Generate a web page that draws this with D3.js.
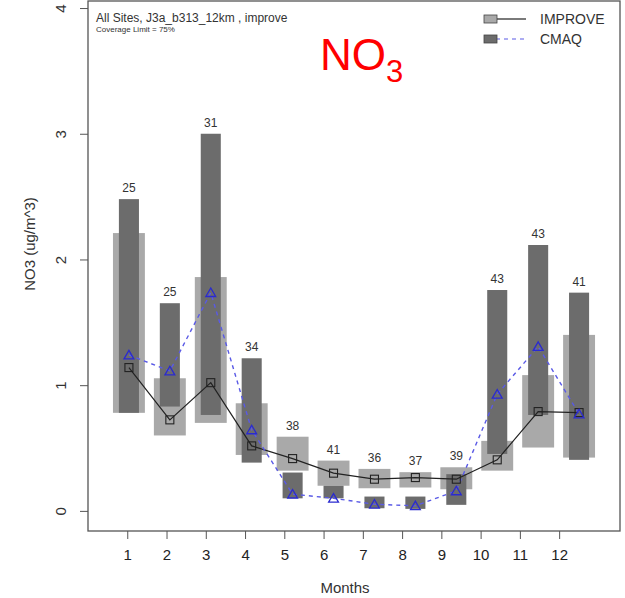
<!DOCTYPE html>
<html lang="en">
<head>
<meta charset="UTF-8" />
<title>NO3 monthly</title>
<script src="https://cdn.jsdelivr.net/npm/d3@7"></script>
<style>
  body { margin: 0; background: #fff; }
  text { font-family: "Liberation Sans", Arial, sans-serif; }
</style>
</head>
<body>
<svg id="chart" width="625" height="598"></svg>
<script>
  // monthly values (ug/m^3)
  let months = [1, 2, 3, 4, 5, 6, 7, 8, 9, 10, 11, 12];
  let nSites = [25, 25, 31, 34, 38, 41, 36, 37, 39, 43, 43, 41];
  // IMPROVE 25th / 75th percentile
  let obsLow = [0.78, 0.60, 0.70, 0.445, 0.32, 0.20, 0.18, 0.186, 0.172, 0.32, 0.504, 0.424];
  let obsHigh = [2.21, 1.055, 1.86, 0.856, 0.59, 0.40, 0.334, 0.308, 0.347, 0.557, 1.08, 1.40];
  // CMAQ 25th / 75th percentile
  let modLow = [0.78, 0.83, 0.763, 0.384, 0.10, 0.10, 0.021, 0.016, 0.048, 0.453, 0.763, 0.406];
  let modHigh = [2.48, 1.652, 3.0, 1.214, 0.305, 0.20, 0.114, 0.114, 0.292, 1.757, 2.115, 1.736];
  // means
  let obsMean = [1.14, 0.724, 1.02, 0.517, 0.416, 0.30, 0.252, 0.265, 0.252, 0.406, 0.79, 0.782];
  let modMean = [1.24, 1.113, 1.736, 0.644, 0.133, 0.10, 0.053, 0.04, 0.159, 0.928, 1.307, 0.771];
  let yTicks = [0, 1, 2, 3, 4];

  let svg = d3.select("#chart");
  let plotL = 88, plotR = 620, plotT = 1, plotB = 531;

  // boxes sit on their own x scale, the axis on a slightly wider one
  let x = d3.scaleLinear().domain([0, 13]).range([plotL, plotR]);
  let xAxisScale = d3.scaleLinear().domain([0, 13.55]).range([plotL, plotR]);
  let y = d3.scaleLinear().domain([-0.16, 4.056]).range([plotB, plotT]);

  let lightW = x(0.78) - x(0);
  let darkW = x(0.49) - x(0);

  let rows = months.map((m, i) => ({
    m: m, n: nSites[i],
    oLo: obsLow[i], oHi: obsHigh[i],
    mLo: modLow[i], mHi: modHigh[i],
    oMean: obsMean[i], mMean: modMean[i]
  }));

  let g = svg.append("g");

  // IMPROVE boxes
  g.selectAll(".obs").data(rows).enter().append("rect")
    .attr("x", d => x(d.m) - lightW / 2)
    .attr("y", d => y(d.oHi))
    .attr("width", lightW)
    .attr("height", d => y(d.oLo) - y(d.oHi))
    .attr("fill", "#a9a9a9");

  // CMAQ boxes
  g.selectAll(".mod").data(rows).enter().append("rect")
    .attr("x", d => x(d.m) - darkW / 2)
    .attr("y", d => y(d.mHi))
    .attr("width", darkW)
    .attr("height", d => y(d.mLo) - y(d.mHi))
    .attr("fill", "#6c6c6c");

  // number of sites
  g.selectAll(".nlab").data(rows).enter().append("text")
    .attr("x", d => x(d.m))
    .attr("y", d => y(Math.max(d.oHi, d.mHi)) - 7)
    .attr("text-anchor", "middle")
    .attr("font-size", 12)
    .attr("fill", "#333")
    .text(d => d.n);

  // mean lines
  let obsLine = d3.line().x(d => x(d.m)).y(d => y(d.oMean));
  let modLine = d3.line().x(d => x(d.m)).y(d => y(d.mMean));

  g.append("path").datum(rows).attr("d", obsLine)
    .attr("fill", "none").attr("stroke", "#222").attr("stroke-width", 1.2);
  g.append("path").datum(rows).attr("d", modLine)
    .attr("fill", "none").attr("stroke", "#5a5ae6").attr("stroke-width", 1.4)
    .attr("stroke-dasharray", "4,4");

  g.selectAll(".sq").data(rows).enter().append("rect")
    .attr("x", d => x(d.m) - 4)
    .attr("y", d => y(d.oMean) - 4)
    .attr("width", 8).attr("height", 8)
    .attr("fill", "none").attr("stroke", "#222").attr("stroke-width", 1.1);

  let tri = d3.symbol().type(d3.symbolTriangle).size(42);
  g.selectAll(".tri").data(rows).enter().append("path")
    .attr("d", tri)
    .attr("transform", d => `translate(${x(d.m)},${y(d.mMean) + 1})`)
    .attr("fill", "none").attr("stroke", "#2a2ad0").attr("stroke-width", 1.3);

  // frame
  svg.append("rect")
    .attr("x", plotL).attr("y", plotT)
    .attr("width", plotR - plotL).attr("height", plotB - plotT)
    .attr("fill", "none").attr("stroke", "#555").attr("stroke-width", 1.3);

  // axes
  let yAxis = svg.append("g").attr("transform", `translate(${plotL},0)`)
    .call(d3.axisLeft(y).tickValues(yTicks).tickFormat(d3.format("d")).tickSize(8).tickSizeOuter(0));
  yAxis.select(".domain").remove();
  yAxis.selectAll("line").attr("stroke", "#555");
  yAxis.selectAll("text")
    .attr("font-size", 15).attr("fill", "#333")
    .attr("transform", "rotate(-90)")
    .attr("x", 0).attr("y", -22).attr("dy", null)
    .attr("text-anchor", "middle");

  let xAxis = svg.append("g").attr("transform", `translate(0,${plotB})`)
    .call(d3.axisBottom(xAxisScale).tickValues(months).tickSize(8).tickSizeOuter(0).tickPadding(10));
  xAxis.select(".domain").remove();
  xAxis.selectAll("line").attr("stroke", "#555");
  xAxis.selectAll("text").attr("font-size", 15).attr("fill", "#222");

  svg.append("text")
    .attr("x", 345).attr("y", 593)
    .attr("text-anchor", "middle").attr("font-size", 15).attr("fill", "#333")
    .text("Months");

  svg.append("text")
    .attr("transform", "translate(35,244) rotate(-90)")
    .attr("text-anchor", "middle").attr("font-size", 15).attr("fill", "#333")
    .text("NO3 (ug/m^3)");

  // titles
  svg.append("text").attr("x", 96).attr("y", 22)
    .attr("font-size", 12).attr("fill", "#333")
    .text("All Sites,  J3a_b313_12km , improve");
  svg.append("text").attr("x", 96).attr("y", 32)
    .attr("font-size", 8).attr("fill", "#333")
    .text("Coverage Limit = 75%");

  let big = svg.append("text").attr("x", 320).attr("y", 70)
    .attr("font-size", 44).attr("fill", "#ff0000");
  big.append("tspan").text("NO");
  big.append("tspan").attr("font-size", 31).attr("dy", 12).text("3");

  // legend
  let legend = [
    { name: "IMPROVE", fill: "#a9a9a9", stroke: "#222", dash: null, y: 19 },
    { name: "CMAQ", fill: "#6c6c6c", stroke: "#5a5ae6", dash: "4,4", y: 39 }
  ];
  let lg = svg.selectAll(".leg").data(legend).enter().append("g");
  lg.append("line")
    .attr("x1", 496).attr("x2", 526)
    .attr("y1", d => d.y).attr("y2", d => d.y)
    .attr("stroke", d => d.stroke).attr("stroke-width", 1.2)
    .attr("stroke-dasharray", d => d.dash);
  lg.append("rect")
    .attr("x", 484).attr("y", d => d.y - 4)
    .attr("width", 13).attr("height", 8)
    .attr("fill", d => d.fill).attr("stroke", "#444").attr("stroke-width", 0.8);
  lg.append("text")
    .attr("x", 540).attr("y", d => d.y + 5)
    .attr("font-size", 14).attr("fill", "#333")
    .text(d => d.name);
</script>
</body>
</html>
